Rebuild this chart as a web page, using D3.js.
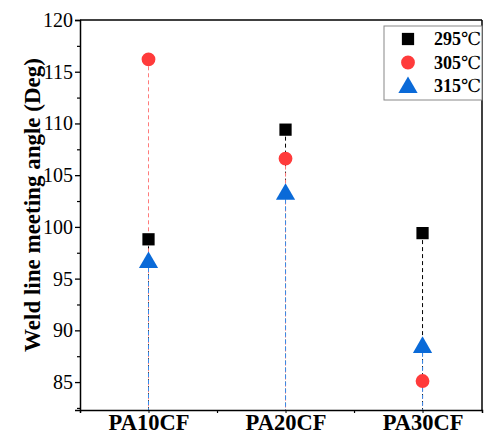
<!DOCTYPE html>
<html><head><meta charset="utf-8">
<script src="https://cdn.jsdelivr.net/npm/d3@7"></script>
<style>body{margin:0;background:#fff}svg{display:block}</style>
</head><body><svg id="c" width="484" height="434"></svg>
<script>
const categories = ["PA10CF","PA20CF","PA30CF"];
const seriesNames = ["295℃","305℃","315℃"];
const values295 = [98.8, 109.4, 99.4];
const values305 = [116.2, 106.6, 85.1];
const values315 = [96.7, 103.3, 88.5];
const yTicks = [85,90,95,100,105,110,115,120];
const colors = ["#000000","#ff3b3b","#0a6ad8"];
const lineColors = ["#000000","#ff7b7b","#3a8ae8"];
const shapes = [d3.symbolSquare, d3.symbolCircle, d3.symbolTriangle];
const series = [values295, values305, values315];
const FONT = "'Liberation Serif','Times New Roman','DejaVu Serif',serif";

const svg = d3.select("#c");
const L = 80, R = 482, T = 20, B = 410;
const x = d3.scaleLinear().domain([0.5, 3.434]).range([L, R]);
const y = d3.scaleLinear().domain([82.3, 120]).range([B, T]);

svg.append("line").attr("x1",L).attr("x2",R).attr("y1",T).attr("y2",T).attr("stroke","#000").attr("stroke-width",1.5);
svg.append("line").attr("x1",R).attr("x2",R).attr("y1",T).attr("y2",B).attr("stroke","#000").attr("stroke-width",1.5);

series.forEach((vals, si) => {
  svg.append("g").selectAll("line").data(vals).join("line")
    .attr("x1",(d,i)=>x(i+1)).attr("x2",(d,i)=>x(i+1))
    .attr("y1",d=>y(d)).attr("y2",B)
    .attr("stroke",lineColors[si]).attr("stroke-width",1)
    .attr("stroke-dasharray","4,3");
});

const yAxis = d3.axisLeft(y).tickValues(yTicks).tickSize(5).tickPadding(2).tickFormat(d3.format("d"));
const gy = svg.append("g").attr("transform",`translate(${L},0)`).call(yAxis);
gy.attr("font-family",null).attr("font-size",null);
gy.select(".domain").attr("stroke-width",1.5);
gy.selectAll(".tick line").attr("stroke-width",1.3);
gy.selectAll("text").style("font-family",FONT).style("font-size","20px").attr("fill","#000");
const yMinor = d3.range(82.5, 120, 5);
svg.append("g").attr("transform",`translate(${L},0)`).call(d3.axisLeft(y).tickValues(yMinor).tickSize(3).tickFormat(""))
  .call(g=>g.select(".domain").remove()).selectAll("line").attr("stroke-width",1.2);

const xAxis = d3.axisBottom(x).tickValues([1,2,3]).tickSize(3).tickPadding(1).tickFormat((d)=>categories[d-1]);
const gx = svg.append("g").attr("transform",`translate(0,${B})`).call(xAxis);
gx.attr("font-family",null).attr("font-size",null);
gx.select(".domain").attr("stroke-width",1.5);
gx.selectAll("text").style("font-family",FONT).style("font-size","22.5px").style("font-weight","bold").attr("fill","#000");
svg.append("g").attr("transform",`translate(0,${B})`).call(d3.axisBottom(x).tickValues([1.5,2.5]).tickSize(3).tickFormat(""))
  .call(g=>g.select(".domain").remove()).selectAll("line").attr("stroke-width",1.2);

const sizes = [150, 150, 160];
series.forEach((vals, si) => {
  svg.append("g").selectAll("path").data(vals).join("path")
    .attr("transform",(d,i)=>`translate(${x(i+1)},${y(d) + (si===2?1.5:0)})`)
    .attr("d", d3.symbol().type(shapes[si]).size(sizes[si]))
    .attr("fill",colors[si]);
});

svg.append("text").attr("transform",`translate(40,205) rotate(-90)`)
  .attr("text-anchor","middle").style("font-family",FONT).style("font-size","23px").style("font-weight","bold").text("Weld line meeting angle (Deg)");

const lg = svg.append("g");
lg.append("rect").attr("x",384).attr("y",26).attr("width",98).attr("height",74).attr("fill","#fff").attr("stroke","#888").attr("stroke-width",1);
seriesNames.forEach((n, i) => {
  const yy = 39 + i*23.5;
  lg.append("path").attr("transform",`translate(408,${yy + (i===2?1.5:0)})`).attr("d", d3.symbol().type(shapes[i]).size(sizes[i])).attr("fill",colors[i]);
  const t = lg.append("text").attr("x",434).attr("y",yy+6).style("font-family",FONT).style("font-size","18px");
  t.append("tspan").style("font-weight","bold").text(n.slice(0,3));
  t.append("tspan").text(n.slice(3));
});
</script></body></html>
